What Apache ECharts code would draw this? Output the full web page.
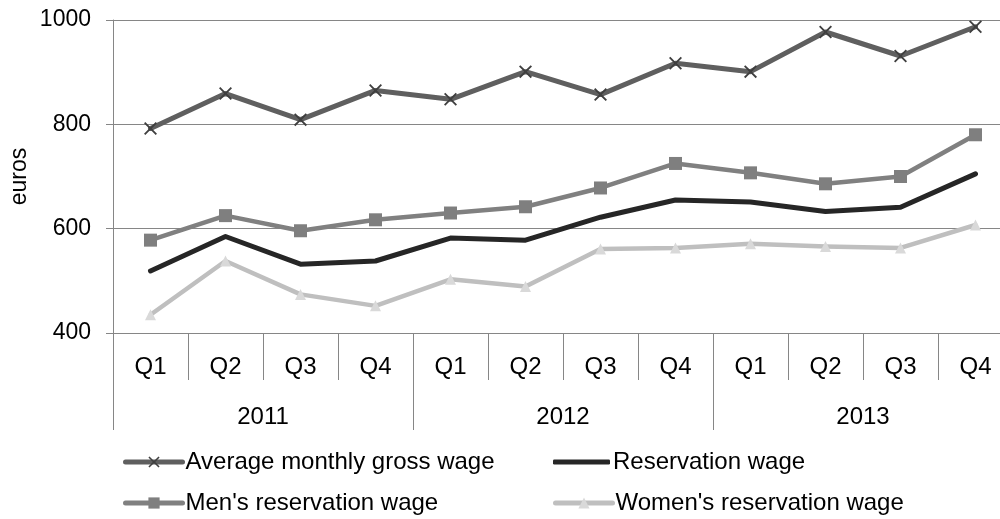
<!DOCTYPE html>
<html>
<head>
<meta charset="utf-8">
<script src="https://cdn.jsdelivr.net/npm/echarts@6/dist/echarts.min.js"></script>
<style>
  html, body { margin: 0; padding: 0; background: #fff; }
  #chart { width: 1000px; height: 519px; }
</style>
</head>
<body>
<div id="chart"></div>
<script>
// Quarterly wages, 2011–2013 (euros)
const quarters = ['Q1', 'Q2', 'Q3', 'Q4', 'Q1', 'Q2', 'Q3', 'Q4', 'Q1', 'Q2', 'Q3', 'Q4'];
const years = ['2011', '2012', '2013'];
const yTicks = { min: 400, max: 1000, step: 200 };

const avgGrossWage = [792, 859, 809, 865, 848, 901, 857, 917, 901, 977, 931, 987];
const reservationWage = [519, 585, 532, 538, 582, 578, 622, 655, 651, 633, 641, 705];
const mensReservationWage = [578, 625, 596, 617, 630, 642, 678, 725, 707, 686, 700, 780];
const womensReservationWage = [435, 538, 474, 452, 503, 489, 561, 563, 571, 566, 563, 607];

const FONT = '"Liberation Sans", Arial, sans-serif';
const FS = 24;
const AXIS = '#868686';
const crossPath = 'path://M0,1L1,0L5,4L9,0L10,1L6,5L10,9L9,10L5,6L1,10L0,9L4,5Z';

const chart = echarts.init(document.getElementById('chart'), null, { renderer: 'canvas' });

function lineSeries(name, data, color, width, symbol, symbolSize, markerColor) {
  return {
    name, type: 'line', data,
    xAxisIndex: 0,
    symbol, symbolSize,
    showSymbol: symbol !== 'none',
    lineStyle: { color, width, cap: 'round', join: 'round' },
    itemStyle: { color: markerColor || color },
    emphasis: { disabled: true },
    z: 3
  };
}

function legendAt(name, left, top, extra) {
  return Object.assign({
    data: [name], left, top, padding: 0,
    itemWidth: 57, itemHeight: 14, itemGap: 0,
    lineStyle: { width: 5 },
    textStyle: { fontFamily: FONT, fontSize: FS, color: '#000', padding: [0, 0, 0, -2] },
    selectedMode: false
  }, extra || {});
}

chart.setOption({
  animation: false,
  backgroundColor: '#fff',
  grid: { left: 113, top: 20, width: 900, bottom: 186, containLabel: false, outerBoundsMode: 'none' },
  xAxis: [
    {
      type: 'category', data: quarters, position: 'bottom',
      axisLine: { lineStyle: { color: AXIS, width: 1 } },
      axisTick: { show: true, interval: 0, length: 47, lineStyle: { color: AXIS } },
      axisLabel: { interval: 0, margin: 22, fontFamily: FONT, fontSize: FS, color: '#000' }
    },
    {
      type: 'category', data: years, position: 'bottom',
      axisLine: { show: false },
      axisTick: { show: true, interval: 0, length: 97, lineStyle: { color: AXIS } },
      axisLabel: { interval: 0, margin: 72, fontFamily: FONT, fontSize: FS, color: '#000' }
    }
  ],
  yAxis: {
    type: 'value', min: yTicks.min, max: yTicks.max, interval: yTicks.step,
    name: 'euros', nameLocation: 'middle', nameGap: 82, nameRotate: 90, nameMoveOverlap: false,
    nameTextStyle: { fontFamily: FONT, fontSize: 23, color: '#000' },
    axisLine: { show: true, lineStyle: { color: AXIS } },
    axisTick: { show: true, length: 7, lineStyle: { color: AXIS } },
    axisLabel: { margin: 22, fontFamily: FONT, fontSize: 23, color: '#000', formatter: v => String(v) },
    splitLine: { lineStyle: { color: AXIS, width: 1 } }
  },
  legend: [
    legendAt('Average monthly gross wage', 123, 450),
    legendAt('Reservation wage', 553, 450, { icon: 'roundRect', itemHeight: 5 }),
    legendAt("Men's reservation wage", 123, 491),
    legendAt("Women's reservation wage", 553, 491)
  ],
  series: [
    lineSeries('Average monthly gross wage', avgGrossWage, '#5f5f5f', 5, crossPath, 13, '#3f3f3f'),
    lineSeries('Reservation wage', reservationWage, '#262626', 5, 'none', 0),
    lineSeries("Men's reservation wage", mensReservationWage, '#808080', 4.5, 'rect', 13, '#7f7f7f'),
    lineSeries("Women's reservation wage", womensReservationWage, '#bfbfbf', 4.5, 'triangle', 11, '#d9d9d9')
  ]
});
</script>
</body>
</html>
